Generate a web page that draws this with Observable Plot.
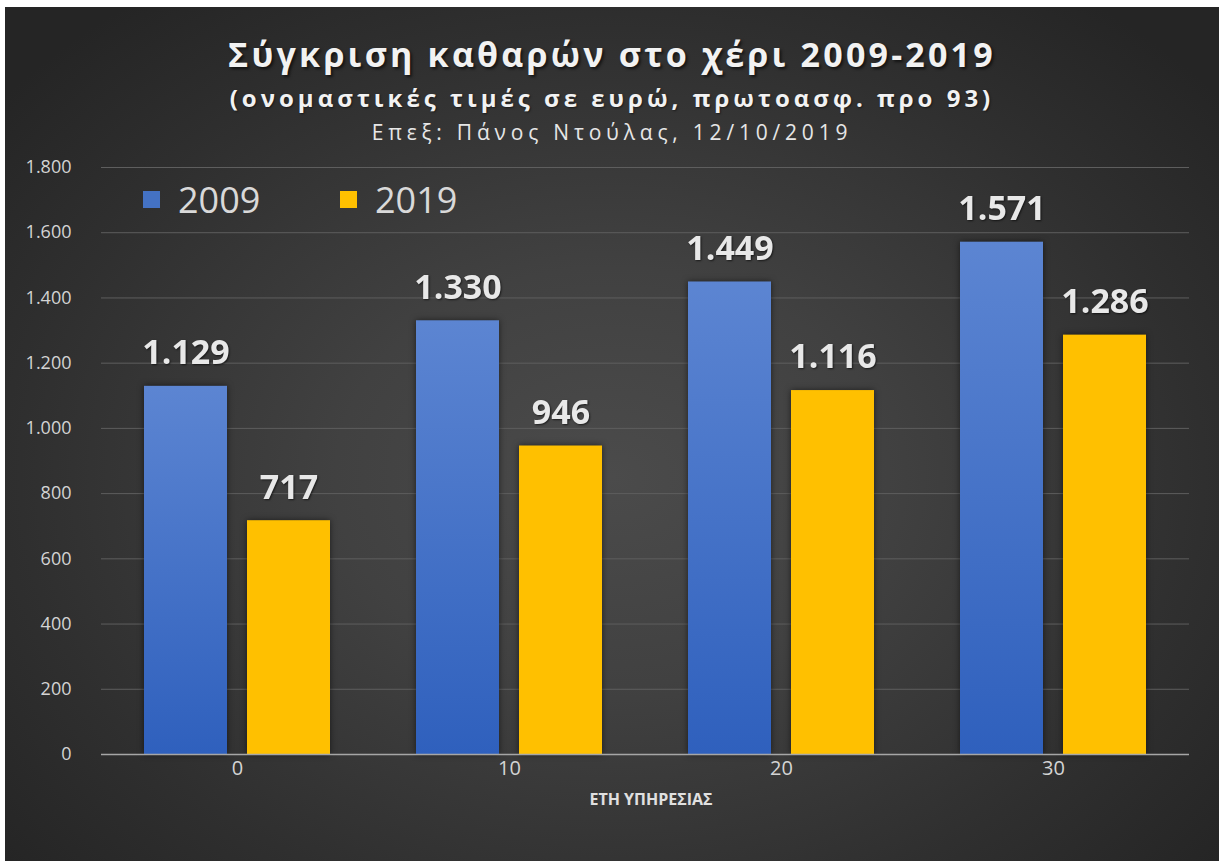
<!DOCTYPE html>
<html>
<head>
<meta charset="utf-8">
<script src="https://cdn.jsdelivr.net/npm/d3@7"></script>
<script src="https://cdn.jsdelivr.net/npm/@observablehq/plot@0.6"></script>
<style>
  html, body { margin: 0; padding: 0; background: #ffffff; }
  #chart {
    position: absolute; left: 5px; top: 7px; width: 1214px; height: 854px; overflow: hidden;
    background: radial-gradient(ellipse 65% 70% at 50% 55%, #4b4b4b 0%, #414141 35%, #2f2f2f 75%, #252525 100%);
    font-family: "Open Sans", sans-serif;
  }
  .t { position: absolute; left: 0; width: 100%; text-align: center; color: #f2f2f2; white-space: nowrap; }
  #t1 { top: 24px; font-size: 34px; font-weight: 700; letter-spacing: 3.2px; text-shadow: 2px 2px 3px rgba(0,0,0,0.6); }
  #t2 { top: 74px; font-size: 24px; font-weight: 700; letter-spacing: 4px; text-shadow: 1px 1px 2px rgba(0,0,0,0.5); }
  #t3 { top: 111px; font-size: 21px; font-weight: 400; letter-spacing: 4.8px; color: #e6e6e6; }
  #plot { position: absolute; left: 0; top: 143px; }
  .leg { position: absolute; top: 168px; display: flex; align-items: center; color: #d9d9d9; font-size: 36px; }
  .sw { width: 17px; height: 17px; margin-right: 18px; }
  #xlabel { position: absolute; top: 781px; left: 0; width: 1292px; text-align: center; color: #e0e0e0; font-size: 16px; font-weight: 700; }
</style>
</head>
<body>
<div id="chart">
  <div class="t" id="t1">Σύγκριση καθαρών στο χέρι 2009-2019</div>
  <div class="t" id="t2">(ονομαστικές τιμές σε ευρώ, πρωτοασφ. προ 93)</div>
  <div class="t" id="t3">Επεξ: Πάνος Ντούλας, 12/10/2019</div>
  <div id="plot"></div>
  <div id="legend"></div>
  <div id="xlabel">ΕΤΗ ΥΠΗΡΕΣΙΑΣ</div>
</div>
<script>
const categories = ["0", "10", "20", "30"];
const series = ["2009", "2019"];
const values2009 = [1129, 1330, 1449, 1571];
const values2019 = [717, 946, 1116, 1286];
const yTicks = [0, 200, 400, 600, 800, 1000, 1200, 1400, 1600, 1800];
const seriesColors = ["url(#grad2009)", "#ffc000"];
const legendColors = ["#4472c4", "#ffc000"];

const locale = d3.formatLocale({decimal: ",", thousands: ".", grouping: [3], currency: ["", "€"]});
const fmt = locale.format(",d");

const data = [];
categories.forEach((c, i) => {
  data.push({cat: c, series: series[0], value: values2009[i]});
  data.push({cat: c, series: series[1], value: values2019[i]});
});

const plot = Plot.plot({
  width: 1214,
  height: 711,
  marginTop: 17,
  marginBottom: 107,
  marginLeft: 96,
  marginRight: 30,
  style: {background: "transparent", fontFamily: "Open Sans, sans-serif", overflow: "visible"},
  fx: {domain: categories, padding: 0},
  x: {domain: series, paddingInner: 0.192, paddingOuter: 0.404, axis: null},
  y: {domain: [0, 1800]},
  color: {domain: series, range: seriesColors},
  marks: [
    Plot.gridY(yTicks, {stroke: "#5e5e5e", strokeOpacity: 1, strokeWidth: 1}),
    Plot.axisY(yTicks, {tickFormat: fmt, tickSize: 0, tickPadding: 30, fontSize: 18, fill: "#d4d4d4", label: null}),
    Plot.axisFx({anchor: "bottom", tickSize: 0, tickPadding: 6, fontSize: 20, fill: "#d4d4d4", label: null}),
    Plot.barY(data, {fx: "cat", x: "series", y: "value", fill: "series"}),
    Plot.ruleY([0], {stroke: "#a6a6a6", strokeWidth: 1.5}),
    Plot.text(data, {fx: "cat", x: "series", y: "value", text: d => fmt(d.value), dy: -33, lineAnchor: "middle",
      fontSize: 34, fontWeight: "bold", fill: "#e8e8e8"})
  ]
});

const svgNS = "http://www.w3.org/2000/svg";
const defs = document.createElementNS(svgNS, "defs");
defs.innerHTML = `<linearGradient id="grad2009" x1="0" y1="0" x2="0" y2="1">
  <stop offset="0" stop-color="#5c85d2"/>
  <stop offset="1" stop-color="#2f60bd"/>
</linearGradient>`;
plot.insertBefore(defs, plot.firstChild);
plot.querySelectorAll('g[aria-label="bar"]').forEach(g => g.style.filter = "drop-shadow(0px 0px 3px rgba(0,0,0,0.55))");
plot.querySelectorAll('g[aria-label="text"]').forEach(g => g.style.textShadow = "1px 1px 2px rgba(0,0,0,0.6)");
plot.querySelectorAll('g[aria-label="y-axis tick label"] text').forEach(t => t.style.fontSize = "18px");
plot.querySelectorAll('g[aria-label="fx-axis tick label"] text').forEach(t => t.style.fontSize = "20px");
document.getElementById("plot").appendChild(plot);

const legend = document.getElementById("legend");
const legendX = [138, 335];
series.forEach((s, i) => {
  const item = document.createElement("div");
  item.className = "leg";
  item.style.left = legendX[i] + "px";
  item.innerHTML = `<div class="sw" style="background:${legendColors[i]}"></div><span>${s}</span>`;
  legend.appendChild(item);
});
</script>
</body>
</html>
